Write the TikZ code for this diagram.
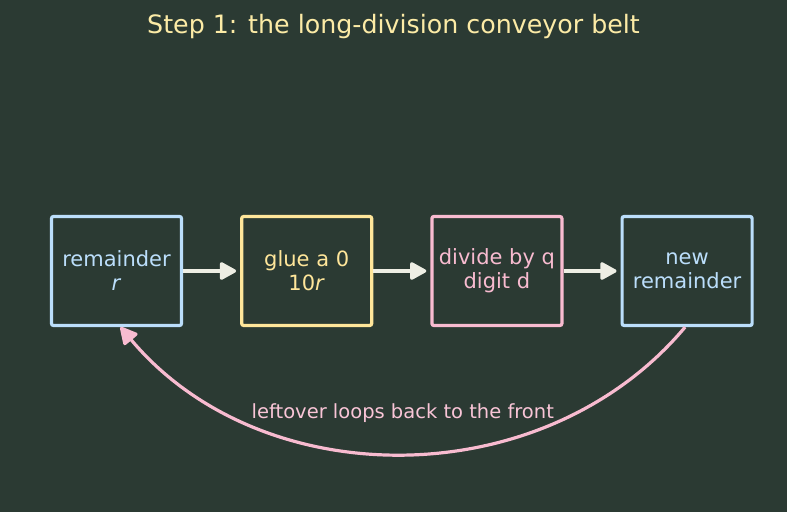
\documentclass[tikz,border=0pt]{standalone}
\usepackage{fontspec}
\setmainfont{DejaVu Sans}
\usepackage{xcolor}
\usepackage{tikz}
\usetikzlibrary{arrows.meta,positioning}

\definecolor{bgdark}{HTML}{2B3A33}
\definecolor{skyblue}{HTML}{BBDEFB}
\definecolor{butter}{HTML}{FFE69A}
\definecolor{blush}{HTML}{F8BBD0}
\definecolor{chalk}{HTML}{EEEEE4}
\definecolor{titlecol}{HTML}{FCEBA6}

\begin{document}
\begin{tikzpicture}[
  x=1pt,y=1pt,
  stage/.style={draw,rounded corners=2pt,line width=3.2pt,minimum width=130pt,minimum height=109pt,align=center,
    font=\fontsize{21}{24}\selectfont},
  flow/.style={-{Triangle[length=18pt,width=19pt,round]},line width=3.2pt,chalk,shorten >=4pt},
  loopback/.style={-{Triangle[length=19pt,width=19pt,round]},line width=3.2pt,blush},
  node distance=1.0cm and 57pt
]
\useasboundingbox (0,0) rectangle (787,512);
\fill[bgdark] (0,0) rectangle (787,512);

\node[text=titlecol,font=\fontsize{25.3}{30}\selectfont] (title) at (393.5,485) {Step 1: the long-division conveyor belt};

\node[stage,skyblue] (remainder) at (116.5,241) {remainder\\\textit{r}};
\node[stage,butter,right=of remainder] (glue) {glue a 0\\10\textit{r}};
\node[stage,blush,right=of glue] (divide) {divide by q\\digit d};
\node[stage,skyblue,right=of divide] (newrem) {new\\remainder};

\draw[flow] (remainder) -- (glue);
\draw[flow] (glue) -- (divide);
\draw[flow] (divide) -- (newrem);
\draw[loopback] ([xshift=-2pt]newrem.south) to[bend left=50]
  node[midway,above=26pt,text=blush!85!white,font=\fontsize{19.5}{23}\selectfont] (loopnote) {leftover loops back to the front}
  ([xshift=4pt]remainder.south);
\end{tikzpicture}
\end{document}
